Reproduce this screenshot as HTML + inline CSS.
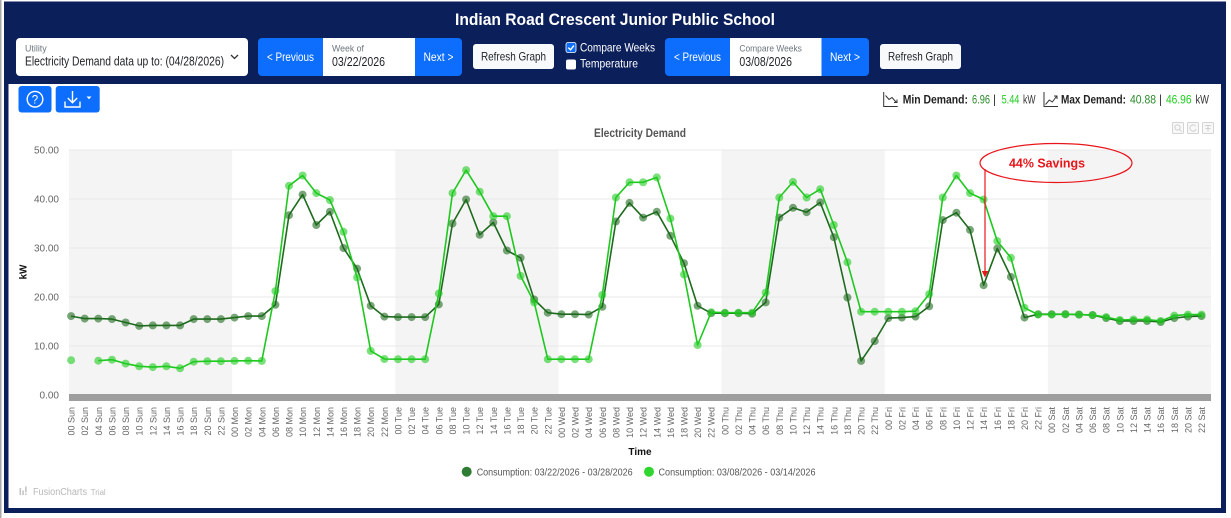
<!DOCTYPE html>
<html>
<head>
<meta charset="utf-8">
<style>
html,body{margin:0;padding:0;background:#fff;}
svg{display:block;font-family:"Liberation Sans",sans-serif;}
</style>
</head>
<body>
<svg width="1231" height="518" viewBox="0 0 1231 518" xmlns="http://www.w3.org/2000/svg">
<!-- frame -->
<rect x="0" y="0" width="1231" height="518" fill="#fff"/>
<rect x="0" y="0" width="1.5" height="518" fill="#a8a8a8"/>
<rect x="4" y="1.5" width="1222" height="511.5" fill="#0b1f5b"/>
<rect x="8.5" y="84" width="1212.5" height="424" fill="#fff"/>

<!-- title -->
<text x="615" y="25" text-anchor="middle" font-size="16.5" font-weight="bold" fill="#fff" textLength="320" lengthAdjust="spacingAndGlyphs">Indian Road Crescent Junior Public School</text>

<!-- utility select -->
<rect x="16" y="38" width="232" height="38" rx="4" fill="#fff"/>
<text x="25" y="51.5" font-size="9" fill="#6c757d" textLength="21.7" lengthAdjust="spacingAndGlyphs">Utility</text>
<text x="25" y="65.5" font-size="12.5" fill="#212529" textLength="199" lengthAdjust="spacingAndGlyphs">Electricity Demand data up to: (04/28/2026)</text>
<path d="M231 55 l3.5 3.5 l3.5 -3.5" stroke="#333" stroke-width="1.3" fill="none"/>

<!-- week nav 1 -->
<path d="M262 38 h61 v38 h-61 a4 4 0 0 1 -4 -4 v-30 a4 4 0 0 1 4 -4z" fill="#0d6efd"/>
<text x="290.5" y="61" text-anchor="middle" font-size="12" fill="#fff" textLength="47" lengthAdjust="spacingAndGlyphs">&lt; Previous</text>
<rect x="323" y="38" width="92" height="38" fill="#fff"/>
<text x="332" y="51.5" font-size="9" fill="#6c757d" textLength="32" lengthAdjust="spacingAndGlyphs">Week of</text>
<text x="332" y="66" font-size="12.5" fill="#212529" textLength="53" lengthAdjust="spacingAndGlyphs">03/22/2026</text>
<path d="M415 38 h43 a4 4 0 0 1 4 4 v30 a4 4 0 0 1 -4 4 h-43z" fill="#0d6efd"/>
<text x="438.5" y="61" text-anchor="middle" font-size="12" fill="#fff" textLength="30" lengthAdjust="spacingAndGlyphs">Next &gt;</text>

<rect x="473" y="44" width="81" height="25" rx="3" fill="#f8f9fa"/>
<text x="513.5" y="60.5" text-anchor="middle" font-size="12" fill="#212529" textLength="65" lengthAdjust="spacingAndGlyphs">Refresh Graph</text>

<!-- checkboxes -->
<rect x="566" y="42.5" width="10" height="10" rx="2" fill="#0d6efd" stroke="#fff" stroke-width="0.8"/>
<path d="M568.3 47.6 l2.2 2.2 l3.4 -4.2" stroke="#fff" stroke-width="1.4" fill="none"/>
<text x="580" y="51.5" font-size="12" fill="#fff" textLength="75" lengthAdjust="spacingAndGlyphs">Compare Weeks</text>
<rect x="566" y="59.5" width="10" height="10" rx="2" fill="#fff"/>
<text x="580" y="67.5" font-size="12" fill="#fff" textLength="58" lengthAdjust="spacingAndGlyphs">Temperature</text>

<!-- week nav 2 -->
<path d="M669 38 h61 v38 h-61 a4 4 0 0 1 -4 -4 v-30 a4 4 0 0 1 4 -4z" fill="#0d6efd"/>
<text x="697.5" y="61" text-anchor="middle" font-size="12" fill="#fff" textLength="47" lengthAdjust="spacingAndGlyphs">&lt; Previous</text>
<rect x="730" y="38" width="91.5" height="38" fill="#fff"/>
<text x="739.4" y="51.5" font-size="9" fill="#6c757d" textLength="62.5" lengthAdjust="spacingAndGlyphs">Compare Weeks</text>
<text x="739.4" y="66" font-size="12.5" fill="#212529" textLength="52.6" lengthAdjust="spacingAndGlyphs">03/08/2026</text>
<path d="M821.5 38 h43.5 a4 4 0 0 1 4 4 v30 a4 4 0 0 1 -4 4 h-43.5z" fill="#0d6efd"/>
<text x="845" y="61" text-anchor="middle" font-size="12" fill="#fff" textLength="30" lengthAdjust="spacingAndGlyphs">Next &gt;</text>

<rect x="880" y="44" width="81" height="25" rx="3" fill="#f8f9fa"/>
<text x="920.5" y="60.5" text-anchor="middle" font-size="12" fill="#212529" textLength="65" lengthAdjust="spacingAndGlyphs">Refresh Graph</text>

<!-- help & download buttons -->
<rect x="18.5" y="86" width="33" height="26.5" rx="3" fill="#0d6efd"/>
<circle cx="35" cy="99.2" r="7.8" stroke="#fff" stroke-width="1.4" fill="none"/>
<text x="35" y="103.6" text-anchor="middle" font-size="11.5" fill="#fff">?</text>
<rect x="55.7" y="86" width="44" height="26.5" rx="3" fill="#0d6efd"/>
<path d="M72.5 91 v11.5 M67.8 98 l4.7 4.7 l4.7 -4.7 M65 101.5 v5.5 h15 v-5.5" stroke="#fff" stroke-width="1.4" fill="none"/>
<path d="M86.5 96.5 h5 l-2.5 2.8z" fill="#fff"/>

<!-- min / max demand -->
<g stroke="#333" stroke-width="1" fill="none">
<path d="M883.7 92 v14.5 h14"/>
<path d="M885.5 95.5 l3.5 4 l3 -2 l4.5 5 M894 102.5 h3 v-3"/>
<path d="M1044 92 v14.5 h14"/>
<path d="M1045.5 104.5 l3.8 -4.5 l3 2 l4.5 -6 M1054 96 h3 v3"/>
</g>
<g font-size="11.5" font-weight="bold">
<text x="902.7" y="103.5" fill="#222" textLength="65.3" lengthAdjust="spacingAndGlyphs">Min Demand:</text>
<text x="1061" y="103.5" fill="#222" textLength="65" lengthAdjust="spacingAndGlyphs">Max Demand:</text>
</g>
<g font-size="11.5">
<text x="972" y="103.5" fill="#2a8a2a" textLength="18" lengthAdjust="spacingAndGlyphs">6.96</text>
<text x="993" y="103.5" fill="#333">|</text>
<text x="1001.6" y="103.5" fill="#1fcc1f" textLength="17.8" lengthAdjust="spacingAndGlyphs">5.44</text>
<text x="1023" y="103.5" fill="#333" textLength="12.5" lengthAdjust="spacingAndGlyphs">kW</text>
<text x="1130" y="103.5" fill="#2a8a2a" textLength="26" lengthAdjust="spacingAndGlyphs">40.88</text>
<text x="1159" y="103.5" fill="#333">|</text>
<text x="1166" y="103.5" fill="#1fcc1f" textLength="25.5" lengthAdjust="spacingAndGlyphs">46.96</text>
<text x="1195.5" y="103.5" fill="#333" textLength="13.5" lengthAdjust="spacingAndGlyphs">kW</text>
</g>

<!-- chart toolbar icons -->
<g stroke="#d4d4d4" fill="#f8f8f8" stroke-width="1">
<rect x="1172.5" y="122.5" width="11" height="11" rx="1"/>
<rect x="1187.5" y="122.5" width="11" height="11" rx="1"/>
<rect x="1202.5" y="122.5" width="11" height="11" rx="1"/>
</g>
<g stroke="#d0d0d0" fill="none" stroke-width="1">
<circle cx="1177.5" cy="127.5" r="2.6"/><path d="M1179.5 129.5 l2.2 2.2"/>
<path d="M1195.5 126 a3.2 3.2 0 1 0 0.6 3"/>
<path d="M1205 125.5 h6 M1208 125.5 v6 M1205.5 128.5 h5"/>
</g>

<!-- chart title -->
<text x="640" y="137" text-anchor="middle" font-size="12" font-weight="bold" fill="#555" textLength="92" lengthAdjust="spacingAndGlyphs">Electricity Demand</text>

<!-- plot bands -->
<g fill="#f4f4f4">
<rect x="69" y="150" width="163.1" height="245"/>
<rect x="395.3" y="150" width="163.1" height="245"/>
<rect x="721.6" y="150" width="163.1" height="245"/>
<rect x="1047.9" y="150" width="163.1" height="245"/>
</g>
<g stroke="#e9e9e9" stroke-width="1">
<line x1="69" y1="150" x2="1211" y2="150"/>
<line x1="69" y1="199" x2="1211" y2="199"/>
<line x1="69" y1="248" x2="1211" y2="248"/>
<line x1="69" y1="297" x2="1211" y2="297"/>
<line x1="69" y1="346" x2="1211" y2="346"/>
</g>
<rect x="69" y="394" width="1142" height="7" fill="#9e9e9e"/>

<!-- y axis labels -->
<g font-size="10" fill="#666" text-anchor="end">
<text x="59" y="153.5">50.00</text>
<text x="59" y="202.5">40.00</text>
<text x="59" y="251.5">30.00</text>
<text x="59" y="300.5">20.00</text>
<text x="59" y="349.5">10.00</text>
<text x="59" y="398.5">0.00</text>
</g>
<text transform="translate(26.5,272) rotate(-90)" text-anchor="middle" font-size="10" font-weight="bold" fill="#111">kW</text>

<!-- dark series -->
<polyline fill="none" stroke="#1e6b1e" stroke-width="1.6" stroke-linejoin="round" points="71.1,316.1 84.7,318.6 98.3,318.6 112,319.1 125.6,322.5 139.2,325.9 152.8,325.4 166.4,325.4 180.1,325.4 193.7,319.1 207.3,319.1 220.9,319.1 234.5,317.6 248.2,316.1 261.8,316.1 275.4,304.8 289,215.2 302.6,194.6 316.3,225 329.9,211.7 343.5,248 357.1,268.6 370.7,305.8 384.4,316.6 398,317.1 411.6,317.1 425.2,317.1 438.8,304.4 452.5,223.5 466.1,199.5 479.7,234.8 493.3,222.5 506.9,250.5 520.6,257.8 534.2,299.5 547.8,312.7 561.4,314.2 575,314.2 588.7,314.6 602.3,306.8 615.9,221.5 629.5,202.9 643.1,217.6 656.8,211.7 670.4,235.8 684,263.2 697.6,305.8 711.2,313.2 724.9,313.2 738.5,313.2 752.1,313.7 765.7,302.4 779.3,217.6 793,207.8 806.6,212.2 820.2,202.4 833.8,237.2 847.4,297.5 861.1,360.9 874.7,341.1 888.3,318.1 901.9,317.6 915.5,316.6 929.2,306.3 942.8,220.1 956.4,212.7 970,229.9 983.6,285.2 997.3,248.5 1010.9,276.9 1024.5,317.6 1038.1,314.2 1051.7,314.2 1065.4,314.2 1079,314.6 1092.6,315.1 1106.2,318.1 1119.8,321 1133.5,321 1147.1,321 1160.7,322 1174.3,318.1 1187.9,316.6 1201.5,316.1"/>
<g fill="#1e6b1e" fill-opacity="0.6">
<circle cx="71.1" cy="316.1" r="4"/><circle cx="84.7" cy="318.6" r="4"/><circle cx="98.3" cy="318.6" r="4"/><circle cx="112" cy="319.1" r="4"/><circle cx="125.6" cy="322.5" r="4"/><circle cx="139.2" cy="325.9" r="4"/><circle cx="152.8" cy="325.4" r="4"/><circle cx="166.4" cy="325.4" r="4"/><circle cx="180.1" cy="325.4" r="4"/><circle cx="193.7" cy="319.1" r="4"/><circle cx="207.3" cy="319.1" r="4"/><circle cx="220.9" cy="319.1" r="4"/>
<circle cx="234.5" cy="317.6" r="4"/><circle cx="248.2" cy="316.1" r="4"/><circle cx="261.8" cy="316.1" r="4"/><circle cx="275.4" cy="304.8" r="4"/><circle cx="289" cy="215.2" r="4"/><circle cx="302.6" cy="194.6" r="4"/><circle cx="316.3" cy="225" r="4"/><circle cx="329.9" cy="211.7" r="4"/><circle cx="343.5" cy="248" r="4"/><circle cx="357.1" cy="268.6" r="4"/><circle cx="370.7" cy="305.8" r="4"/><circle cx="384.4" cy="316.6" r="4"/>
<circle cx="398" cy="317.1" r="4"/><circle cx="411.6" cy="317.1" r="4"/><circle cx="425.2" cy="317.1" r="4"/><circle cx="438.8" cy="304.4" r="4"/><circle cx="452.5" cy="223.5" r="4"/><circle cx="466.1" cy="199.5" r="4"/><circle cx="479.7" cy="234.8" r="4"/><circle cx="493.3" cy="222.5" r="4"/><circle cx="506.9" cy="250.5" r="4"/><circle cx="520.6" cy="257.8" r="4"/><circle cx="534.2" cy="299.5" r="4"/><circle cx="547.8" cy="312.7" r="4"/>
<circle cx="561.4" cy="314.2" r="4"/><circle cx="575" cy="314.2" r="4"/><circle cx="588.7" cy="314.6" r="4"/><circle cx="602.3" cy="306.8" r="4"/><circle cx="615.9" cy="221.5" r="4"/><circle cx="629.5" cy="202.9" r="4"/><circle cx="643.1" cy="217.6" r="4"/><circle cx="656.8" cy="211.7" r="4"/><circle cx="670.4" cy="235.8" r="4"/><circle cx="684" cy="263.2" r="4"/><circle cx="697.6" cy="305.8" r="4"/><circle cx="711.2" cy="313.2" r="4"/>
<circle cx="724.9" cy="313.2" r="4"/><circle cx="738.5" cy="313.2" r="4"/><circle cx="752.1" cy="313.7" r="4"/><circle cx="765.7" cy="302.4" r="4"/><circle cx="779.3" cy="217.6" r="4"/><circle cx="793" cy="207.8" r="4"/><circle cx="806.6" cy="212.2" r="4"/><circle cx="820.2" cy="202.4" r="4"/><circle cx="833.8" cy="237.2" r="4"/><circle cx="847.4" cy="297.5" r="4"/><circle cx="861.1" cy="360.9" r="4"/><circle cx="874.7" cy="341.1" r="4"/>
<circle cx="888.3" cy="318.1" r="4"/><circle cx="901.9" cy="317.6" r="4"/><circle cx="915.5" cy="316.6" r="4"/><circle cx="929.2" cy="306.3" r="4"/><circle cx="942.8" cy="220.1" r="4"/><circle cx="956.4" cy="212.7" r="4"/><circle cx="970" cy="229.9" r="4"/><circle cx="983.6" cy="285.2" r="4"/><circle cx="997.3" cy="248.5" r="4"/><circle cx="1010.9" cy="276.9" r="4"/><circle cx="1024.5" cy="317.6" r="4"/><circle cx="1038.1" cy="314.2" r="4"/>
<circle cx="1051.7" cy="314.2" r="4"/><circle cx="1065.4" cy="314.2" r="4"/><circle cx="1079" cy="314.6" r="4"/><circle cx="1092.6" cy="315.1" r="4"/><circle cx="1106.2" cy="318.1" r="4"/><circle cx="1119.8" cy="321" r="4"/><circle cx="1133.5" cy="321" r="4"/><circle cx="1147.1" cy="321" r="4"/><circle cx="1160.7" cy="322" r="4"/><circle cx="1174.3" cy="318.1" r="4"/><circle cx="1187.9" cy="316.6" r="4"/><circle cx="1201.5" cy="316.1" r="4"/>
</g>

<!-- light series -->
<polyline fill="none" stroke="#1fc81f" stroke-width="1.6" stroke-linejoin="round" points="98.3,360.7 112,359.7 125.6,363.6 139.2,366.3 152.8,367.1 166.4,366.3 180.1,368.3 193.7,361.7 207.3,361.2 220.9,361.2 234.5,360.9 248.2,360.7 261.8,360.9 275.4,291.1 289,185.8 302.6,175.5 316.3,193.1 329.9,200 343.5,231.8 357.1,277.4 370.7,350.9 384.4,359 398,359.2 411.6,359.2 425.2,359.2 438.8,293.6 452.5,193.1 466.1,170.1 479.7,191.7 493.3,216.2 506.9,216.2 520.6,275.9 534.2,302.4 547.8,359.2 561.4,359.2 575,359.2 588.7,359.2 602.3,295 615.9,197.5 629.5,182.3 643.1,182.3 656.8,177.4 670.4,218.6 684,274.5 697.6,345 711.2,312.2 724.9,312.7 738.5,312.7 752.1,312.7 765.7,292.6 779.3,197.5 793,181.9 806.6,197.5 820.2,189.2 833.8,225 847.4,262.2 861.1,311.7 874.7,311.7 888.3,311.7 901.9,311.7 915.5,311.2 929.2,294.1 942.8,197.5 956.4,175.5 970,193.1 983.6,199.5 997.3,241.1 1010.9,257.8 1024.5,307.8 1038.1,314.6 1051.7,314.6 1065.4,314.2 1079,314.6 1092.6,315.1 1106.2,317.1 1119.8,320 1133.5,319.5 1147.1,319.5 1160.7,321 1174.3,315.6 1187.9,314.6 1201.5,314.6"/>
<g fill="#22cc22" fill-opacity="0.6">
<circle cx="71.1" cy="360.2" r="4"/><circle cx="98.3" cy="360.7" r="4"/><circle cx="112" cy="359.7" r="4"/><circle cx="125.6" cy="363.6" r="4"/><circle cx="139.2" cy="366.3" r="4"/><circle cx="152.8" cy="367.1" r="4"/><circle cx="166.4" cy="366.3" r="4"/><circle cx="180.1" cy="368.3" r="4"/><circle cx="193.7" cy="361.7" r="4"/><circle cx="207.3" cy="361.2" r="4"/><circle cx="220.9" cy="361.2" r="4"/>
<circle cx="234.5" cy="360.9" r="4"/><circle cx="248.2" cy="360.7" r="4"/><circle cx="261.8" cy="360.9" r="4"/><circle cx="275.4" cy="291.1" r="4"/><circle cx="289" cy="185.8" r="4"/><circle cx="302.6" cy="175.5" r="4"/><circle cx="316.3" cy="193.1" r="4"/><circle cx="329.9" cy="200" r="4"/><circle cx="343.5" cy="231.8" r="4"/><circle cx="357.1" cy="277.4" r="4"/><circle cx="370.7" cy="350.9" r="4"/><circle cx="384.4" cy="359" r="4"/>
<circle cx="398" cy="359.2" r="4"/><circle cx="411.6" cy="359.2" r="4"/><circle cx="425.2" cy="359.2" r="4"/><circle cx="438.8" cy="293.6" r="4"/><circle cx="452.5" cy="193.1" r="4"/><circle cx="466.1" cy="170.1" r="4"/><circle cx="479.7" cy="191.7" r="4"/><circle cx="493.3" cy="216.2" r="4"/><circle cx="506.9" cy="216.2" r="4"/><circle cx="520.6" cy="275.9" r="4"/><circle cx="534.2" cy="302.4" r="4"/><circle cx="547.8" cy="359.2" r="4"/>
<circle cx="561.4" cy="359.2" r="4"/><circle cx="575" cy="359.2" r="4"/><circle cx="588.7" cy="359.2" r="4"/><circle cx="602.3" cy="295" r="4"/><circle cx="615.9" cy="197.5" r="4"/><circle cx="629.5" cy="182.3" r="4"/><circle cx="643.1" cy="182.3" r="4"/><circle cx="656.8" cy="177.4" r="4"/><circle cx="670.4" cy="218.6" r="4"/><circle cx="684" cy="274.5" r="4"/><circle cx="697.6" cy="345" r="4"/><circle cx="711.2" cy="312.2" r="4"/>
<circle cx="724.9" cy="312.7" r="4"/><circle cx="738.5" cy="312.7" r="4"/><circle cx="752.1" cy="312.7" r="4"/><circle cx="765.7" cy="292.6" r="4"/><circle cx="779.3" cy="197.5" r="4"/><circle cx="793" cy="181.9" r="4"/><circle cx="806.6" cy="197.5" r="4"/><circle cx="820.2" cy="189.2" r="4"/><circle cx="833.8" cy="225" r="4"/><circle cx="847.4" cy="262.2" r="4"/><circle cx="861.1" cy="311.7" r="4"/><circle cx="874.7" cy="311.7" r="4"/>
<circle cx="888.3" cy="311.7" r="4"/><circle cx="901.9" cy="311.7" r="4"/><circle cx="915.5" cy="311.2" r="4"/><circle cx="929.2" cy="294.1" r="4"/><circle cx="942.8" cy="197.5" r="4"/><circle cx="956.4" cy="175.5" r="4"/><circle cx="970" cy="193.1" r="4"/><circle cx="983.6" cy="199.5" r="4"/><circle cx="997.3" cy="241.1" r="4"/><circle cx="1010.9" cy="257.8" r="4"/><circle cx="1024.5" cy="307.8" r="4"/><circle cx="1038.1" cy="314.6" r="4"/>
<circle cx="1051.7" cy="314.6" r="4"/><circle cx="1065.4" cy="314.2" r="4"/><circle cx="1079" cy="314.6" r="4"/><circle cx="1092.6" cy="315.1" r="4"/><circle cx="1106.2" cy="317.1" r="4"/><circle cx="1119.8" cy="320" r="4"/><circle cx="1133.5" cy="319.5" r="4"/><circle cx="1147.1" cy="319.5" r="4"/><circle cx="1160.7" cy="321" r="4"/><circle cx="1174.3" cy="315.6" r="4"/><circle cx="1187.9" cy="314.6" r="4"/><circle cx="1201.5" cy="314.6" r="4"/>
</g>

<!-- annotation -->
<ellipse cx="1056" cy="163" rx="76" ry="19.5" fill="none" stroke="#e8161b" stroke-width="1.2"/>
<text x="1047" y="167.3" text-anchor="middle" font-size="13" font-weight="bold" fill="#e8161b" textLength="76" lengthAdjust="spacingAndGlyphs">44% Savings</text>
<line x1="985" y1="169" x2="985" y2="272" stroke="#e8161b" stroke-width="1.2"/>
<path d="M981.8 271 h6.4 l-3.2 6.5z" fill="#e8161b"/>

<!-- x axis labels -->
<g font-size="9" fill="#666" text-anchor="end">
<text transform="translate(74.6,407) rotate(-90)">00 Sun</text>
<text transform="translate(88.2,407) rotate(-90)">02 Sun</text>
<text transform="translate(101.8,407) rotate(-90)">04 Sun</text>
<text transform="translate(115.5,407) rotate(-90)">06 Sun</text>
<text transform="translate(129.1,407) rotate(-90)">08 Sun</text>
<text transform="translate(142.7,407) rotate(-90)">10 Sun</text>
<text transform="translate(156.3,407) rotate(-90)">12 Sun</text>
<text transform="translate(169.9,407) rotate(-90)">14 Sun</text>
<text transform="translate(183.6,407) rotate(-90)">16 Sun</text>
<text transform="translate(197.2,407) rotate(-90)">18 Sun</text>
<text transform="translate(210.8,407) rotate(-90)">20 Sun</text>
<text transform="translate(224.4,407) rotate(-90)">22 Sun</text>
<text transform="translate(238,407) rotate(-90)">00 Mon</text>
<text transform="translate(251.7,407) rotate(-90)">02 Mon</text>
<text transform="translate(265.3,407) rotate(-90)">04 Mon</text>
<text transform="translate(278.9,407) rotate(-90)">06 Mon</text>
<text transform="translate(292.5,407) rotate(-90)">08 Mon</text>
<text transform="translate(306.1,407) rotate(-90)">10 Mon</text>
<text transform="translate(319.8,407) rotate(-90)">12 Mon</text>
<text transform="translate(333.4,407) rotate(-90)">14 Mon</text>
<text transform="translate(347,407) rotate(-90)">16 Mon</text>
<text transform="translate(360.6,407) rotate(-90)">18 Mon</text>
<text transform="translate(374.2,407) rotate(-90)">20 Mon</text>
<text transform="translate(387.9,407) rotate(-90)">22 Mon</text>
<text transform="translate(401.5,407) rotate(-90)">00 Tue</text>
<text transform="translate(415.1,407) rotate(-90)">02 Tue</text>
<text transform="translate(428.7,407) rotate(-90)">04 Tue</text>
<text transform="translate(442.3,407) rotate(-90)">06 Tue</text>
<text transform="translate(456,407) rotate(-90)">08 Tue</text>
<text transform="translate(469.6,407) rotate(-90)">10 Tue</text>
<text transform="translate(483.2,407) rotate(-90)">12 Tue</text>
<text transform="translate(496.8,407) rotate(-90)">14 Tue</text>
<text transform="translate(510.4,407) rotate(-90)">16 Tue</text>
<text transform="translate(524.1,407) rotate(-90)">18 Tue</text>
<text transform="translate(537.7,407) rotate(-90)">20 Tue</text>
<text transform="translate(551.3,407) rotate(-90)">22 Tue</text>
<text transform="translate(564.9,407) rotate(-90)">00 Wed</text>
<text transform="translate(578.5,407) rotate(-90)">02 Wed</text>
<text transform="translate(592.2,407) rotate(-90)">04 Wed</text>
<text transform="translate(605.8,407) rotate(-90)">06 Wed</text>
<text transform="translate(619.4,407) rotate(-90)">08 Wed</text>
<text transform="translate(633,407) rotate(-90)">10 Wed</text>
<text transform="translate(646.6,407) rotate(-90)">12 Wed</text>
<text transform="translate(660.3,407) rotate(-90)">14 Wed</text>
<text transform="translate(673.9,407) rotate(-90)">16 Wed</text>
<text transform="translate(687.5,407) rotate(-90)">18 Wed</text>
<text transform="translate(701.1,407) rotate(-90)">20 Wed</text>
<text transform="translate(714.7,407) rotate(-90)">22 Wed</text>
<text transform="translate(728.4,407) rotate(-90)">00 Thu</text>
<text transform="translate(742,407) rotate(-90)">02 Thu</text>
<text transform="translate(755.6,407) rotate(-90)">04 Thu</text>
<text transform="translate(769.2,407) rotate(-90)">06 Thu</text>
<text transform="translate(782.8,407) rotate(-90)">08 Thu</text>
<text transform="translate(796.5,407) rotate(-90)">10 Thu</text>
<text transform="translate(810.1,407) rotate(-90)">12 Thu</text>
<text transform="translate(823.7,407) rotate(-90)">14 Thu</text>
<text transform="translate(837.3,407) rotate(-90)">16 Thu</text>
<text transform="translate(850.9,407) rotate(-90)">18 Thu</text>
<text transform="translate(864.6,407) rotate(-90)">20 Thu</text>
<text transform="translate(878.2,407) rotate(-90)">22 Thu</text>
<text transform="translate(891.8,407) rotate(-90)">00 Fri</text>
<text transform="translate(905.4,407) rotate(-90)">02 Fri</text>
<text transform="translate(919,407) rotate(-90)">04 Fri</text>
<text transform="translate(932.7,407) rotate(-90)">06 Fri</text>
<text transform="translate(946.3,407) rotate(-90)">08 Fri</text>
<text transform="translate(959.9,407) rotate(-90)">10 Fri</text>
<text transform="translate(973.5,407) rotate(-90)">12 Fri</text>
<text transform="translate(987.1,407) rotate(-90)">14 Fri</text>
<text transform="translate(1000.8,407) rotate(-90)">16 Fri</text>
<text transform="translate(1014.4,407) rotate(-90)">18 Fri</text>
<text transform="translate(1028,407) rotate(-90)">20 Fri</text>
<text transform="translate(1041.6,407) rotate(-90)">22 Fri</text>
<text transform="translate(1055.2,407) rotate(-90)">00 Sat</text>
<text transform="translate(1068.9,407) rotate(-90)">02 Sat</text>
<text transform="translate(1082.5,407) rotate(-90)">04 Sat</text>
<text transform="translate(1096.1,407) rotate(-90)">06 Sat</text>
<text transform="translate(1109.7,407) rotate(-90)">08 Sat</text>
<text transform="translate(1123.3,407) rotate(-90)">10 Sat</text>
<text transform="translate(1137,407) rotate(-90)">12 Sat</text>
<text transform="translate(1150.6,407) rotate(-90)">14 Sat</text>
<text transform="translate(1164.2,407) rotate(-90)">16 Sat</text>
<text transform="translate(1177.8,407) rotate(-90)">18 Sat</text>
<text transform="translate(1191.4,407) rotate(-90)">20 Sat</text>
<text transform="translate(1205,407) rotate(-90)">22 Sat</text>
</g>

<!-- x axis title -->
<text x="640" y="455" text-anchor="middle" font-size="10" font-weight="bold" fill="#111">Time</text>

<!-- legend -->
<circle cx="466.7" cy="471.7" r="5" fill="#2e7d32"/>
<text x="476.7" y="475.3" font-size="10.5" fill="#555" textLength="156" lengthAdjust="spacingAndGlyphs">Consumption: 03/22/2026 - 03/28/2026</text>
<circle cx="649" cy="471.7" r="5" fill="#2fd62f"/>
<text x="658.5" y="475.3" font-size="10.5" fill="#555" textLength="157" lengthAdjust="spacingAndGlyphs">Consumption: 03/08/2026 - 03/14/2026</text>

<!-- FusionCharts trial -->
<g fill="#c4c4c4">
<rect x="19.5" y="488" width="1.6" height="7"/>
<rect x="22.3" y="490.5" width="1.6" height="4.5"/>
<rect x="25.1" y="486.5" width="1.6" height="6"/>
<rect x="25.1" y="493.6" width="1.6" height="1.4"/>
</g>
<text x="33" y="495" font-size="10" fill="#b8b8b8" textLength="54" lengthAdjust="spacingAndGlyphs">FusionCharts</text>
<text x="90.7" y="495" font-size="8.5" fill="#b8b8b8" textLength="15" lengthAdjust="spacingAndGlyphs">Trial</text>
</svg>
</body>
</html>
